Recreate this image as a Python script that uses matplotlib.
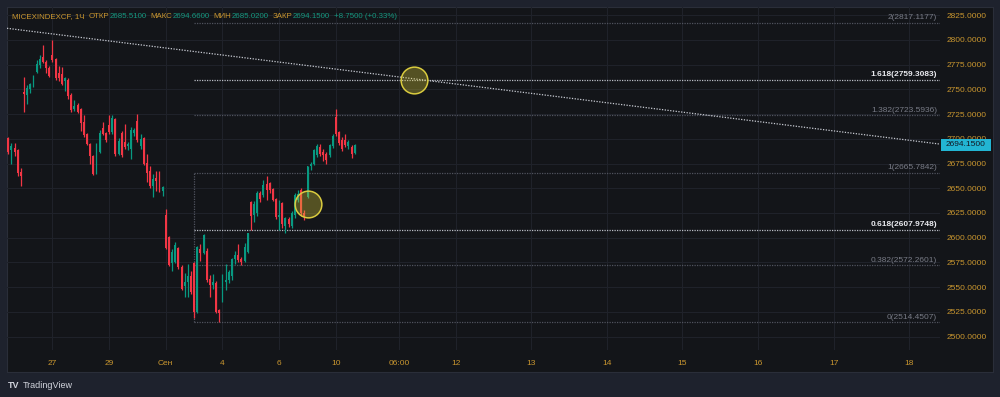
import matplotlib
matplotlib.use('Agg')
import matplotlib.pyplot as plt
import matplotlib.transforms as mtransforms
from matplotlib.patches import Rectangle
import numpy as np

plt.rcParams['font.family'] = ['Liberation Sans', 'DejaVu Sans']

# ---------------- data ----------------
opens = [2701, 2689, 2691, 2689, 2666, 2747, 2744, 2750, 2753, 2767,
         2775, 2783, 2778, 2771, 2785, 2781, 2766, 2765, 2758, 2759,
         2744, 2730, 2734, 2730, 2717, 2705, 2695, 2683, 2664, 2687,
         2711, 2706, 2714, 2707, 2720, 2685, 2706, 2697, 2693, 2690,
         2706, 2718, 2693, 2701, 2676, 2667, 2652, 2660, 2658, 2647,
         2623, 2601, 2574, 2576, 2590, 2570, 2551, 2555, 2561, 2574,
         2525, 2589, 2585, 2587, 2558, 2552, 2554, 2527, 2538, 2555,
         2557, 2561, 2579, 2583, 2579, 2577, 2586, 2636, 2623, 2625,
         2645, 2643, 2654, 2655, 2649, 2639, 2621, 2635, 2612, 2619,
         2612, 2623, 2638, 2648, 2625, 2641, 2672, 2675, 2684, 2692,
         2687, 2685, 2684, 2693, 2722, 2707, 2699, 2699, 2693, 2692,
         2685.51]
highs = [2702, 2696, 2696, 2690, 2670, 2762, 2754, 2756, 2764, 2780,
         2785, 2795, 2780, 2773, 2800, 2782, 2773, 2772, 2762, 2761,
         2746, 2739, 2736, 2731, 2724, 2706, 2696, 2684, 2696, 2709,
         2717, 2707, 2724, 2724, 2721, 2701, 2708, 2715, 2697, 2712,
         2711, 2725, 2705, 2702, 2685, 2672, 2664, 2667, 2667, 2652,
         2629, 2602, 2589, 2596, 2591, 2572, 2564, 2573, 2566, 2575,
         2592, 2594, 2604, 2590, 2562, 2563, 2556, 2528, 2563, 2573,
         2567, 2580, 2587, 2594, 2581, 2595, 2605, 2637, 2637, 2647,
         2647, 2658, 2662, 2656, 2650, 2640, 2638, 2636, 2621, 2621,
         2627, 2645, 2648, 2650, 2628, 2672, 2677, 2690, 2695, 2695,
         2690, 2687, 2695, 2705, 2730, 2708, 2702, 2705, 2699, 2694,
         2694.66]
lows = [2685, 2675, 2683, 2662, 2652, 2727, 2735, 2746, 2752, 2766,
        2771, 2777, 2766, 2762, 2778, 2759, 2758, 2754, 2748, 2740,
        2727, 2728, 2726, 2708, 2702, 2694, 2675, 2663, 2664, 2686,
        2704, 2697, 2705, 2705, 2683, 2684, 2682, 2690, 2689, 2680,
        2703, 2697, 2690, 2673, 2656, 2650, 2641, 2647, 2646, 2642,
        2589, 2571, 2566, 2574, 2568, 2547, 2540, 2540, 2543, 2519,
        2524, 2577, 2584, 2555, 2540, 2548, 2524, 2514.45, 2535, 2547,
        2554, 2557, 2573, 2576, 2572, 2576, 2585, 2608, 2616, 2622,
        2636, 2641, 2638, 2645, 2637, 2619, 2608, 2610, 2605, 2611,
        2610, 2620, 2636, 2622, 2618, 2640, 2668, 2673, 2682, 2683,
        2678, 2674, 2682, 2691, 2703, 2694, 2688, 2692, 2690, 2681,
        2685.02]
closes = [2687, 2693, 2687, 2665, 2662, 2745, 2751, 2755, 2763, 2776,
          2781, 2778, 2771, 2763, 2780, 2761, 2761, 2755, 2761, 2743,
          2729, 2733, 2727, 2716, 2704, 2695, 2683, 2664, 2687, 2706,
          2705, 2699, 2707, 2721, 2685, 2698, 2684, 2692, 2695, 2709,
          2709, 2699, 2700, 2675, 2665, 2652, 2659, 2657, 2647, 2651,
          2590, 2572, 2586, 2593, 2570, 2548, 2555, 2561, 2545, 2525,
          2591, 2585, 2603, 2557, 2552, 2555, 2525, 2524, 2555, 2557,
          2565, 2579, 2583, 2578, 2576, 2591, 2605, 2622, 2634, 2645,
          2639, 2653, 2648, 2648, 2638, 2621, 2623, 2614, 2620, 2614,
          2625, 2643, 2644, 2625, 2621, 2672, 2675, 2689, 2693, 2685,
          2684, 2679, 2694, 2703, 2705, 2696, 2690, 2694, 2697, 2685,
          2694.15]

time_tick_pos = [14, 32, 50, 68, 86, 104, 124, 142, 166, 190, 214, 238, 262, 286]
time_tick_labels = ['27', '29', 'Сен', '4', '6', '10', '06:00', '12', '13', '14', '15', '16', '17', '18']
price_ticks = [2500, 2525, 2550, 2575, 2600, 2625, 2650, 2675, 2700, 2725, 2750, 2775, 2800, 2825]

fib_levels = ['0', '0.382', '0.618', '1', '1.382', '1.618', '2']
fib_values = [2514.4507, 2572.2601, 2607.9748, 2665.7842, 2723.5936, 2759.3083, 2817.1177]
fib_highlight = ['0.618', '1.618']
fib_start = 59

trend_x = [-0.41, 295.8]
trend_y = [2811.6, 2694.6]

circle_x = [128.8, 95.2]
circle_y = [2759.3, 2633.8]

header_parts = [("MICEXINDEXCF, 1Ч", 'label'), ("ОТКР", 'label'), ("2685.5100", 'value'),
                ("МАКС", 'label'), ("2694.6600", 'value'), ("МИН", 'label'), ("2685.0200", 'value'),
                ("ЗАКР", 'label'), ("2694.1500", 'value'), ("+8.7500 (+0.33%)", 'value')]
last_price = 2694.15

# ---------------- style ----------------
W, H = 1000, 397
OUTER = '#1e222d'
BG = '#131519'
GRID = '#1f222a'
GOLD = '#c9962f'
TEAL = '#15977f'
GREEN = '#089981'
RED = '#f23645'
FIB_DIM = '#50535e'
FIB_BRIGHT = '#b8bbc4'

fig = plt.figure(figsize=(W / 100, H / 100), dpi=100, facecolor=OUTER)

panel = fig.add_axes([7 / W, 1 - 372 / H, (993 - 7) / W, (372 - 7) / H])
panel.set_facecolor(BG)
panel.set_xticks([]); panel.set_yticks([])
for s in panel.spines.values():
    s.set_color('#2a2e39'); s.set_linewidth(0.8)

ax = fig.add_axes([7 / W, 1 - 350 / H, (940 - 7) / W, (350 - 7) / H])
ax.set_facecolor('none')
for s in ax.spines.values():
    s.set_visible(False)
ax.set_xlim(-0.41, 295.8)
ax.set_ylim(2486.6, 2833.1)

# grid
for p in price_ticks:
    ax.axhline(p, color=GRID, lw=0.8, zorder=0)
for t in time_tick_pos:
    ax.axvline(t, color=GRID, lw=0.8, zorder=0)

# axes labels
ax.yaxis.tick_right()
ax.set_yticks(price_ticks)
ax.set_yticklabels([f"{p:.4f}" for p in price_ticks])
ax.set_xticks(time_tick_pos)
ax.set_xticklabels(time_tick_labels)
ax.tick_params(axis='y', length=0, pad=5, labelsize=6, labelcolor=GOLD)
ax.tick_params(axis='x', length=0, pad=7, labelsize=6, labelcolor=GOLD)

# candles
o = np.array(opens); c = np.array(closes); h = np.array(highs); l = np.array(lows)
x = np.arange(len(o))
cols = np.where(c >= o, GREEN, RED)
ax.vlines(x, l, h, colors=cols, lw=0.9, zorder=3)
ax.bar(x, np.maximum(np.abs(c - o), 0.7), bottom=np.minimum(o, c), width=0.62,
       color=cols, linewidth=0, zorder=4)

# fib extension
xr = ax.get_xlim()[1]
for lvl, val in zip(fib_levels, fib_values):
    bright = lvl in fib_highlight
    ax.hlines(val, fib_start, xr, colors=FIB_BRIGHT if bright else FIB_DIM,
              lw=0.9, linestyles=(0, (1, 1)), zorder=2)
    ax.annotate(f"{lvl}({val:.4f})", xy=(1, val), xycoords=('axes fraction', 'data'),
                xytext=(-2.2, 1.2), textcoords='offset points', ha='right', va='bottom',
                fontsize=6, color='#e8e9ee' if bright else '#787b86',
                fontweight='bold' if bright else 'normal', zorder=6)
ax.vlines(fib_start, fib_values[0], fib_values[3], colors=FIB_DIM, lw=0.9,
          linestyles=(0, (1, 1)), zorder=2)

# trend line
ax.plot(trend_x, trend_y, color='#c9ccd4', lw=0.9, ls=(0, (1, 1.2)), zorder=5)

# circles
ax.scatter(circle_x, circle_y, s=370, facecolor=(0.86, 0.80, 0.22, 0.33),
           edgecolor='#d9cb3e', linewidth=1.1, zorder=7)

# last price tag
px_per_price = (350 - 7) / (ax.get_ylim()[1] - ax.get_ylim()[0])
tag_h = 12 / px_per_price
trans = mtransforms.blended_transform_factory(ax.transAxes, ax.transData)
ax.add_patch(Rectangle((1.0 + 1 / 933, last_price - tag_h / 2), 50 / 933, tag_h,
                       transform=trans, facecolor='#22b5d3', edgecolor='none',
                       clip_on=False, zorder=8))
ax.text(1.0 + 26 / 933, last_price, f"{last_price:.4f}", transform=trans, ha='center',
        va='center', fontsize=6, color='#131722', clip_on=False, zorder=9)

# header legend
HFS = 5.7
prev = fig.text(12 / W, 1 - 16.8 / H, header_parts[0][0], fontsize=HFS, color=GOLD,
                va='center', ha='left')
prev_kind = header_parts[0][1]
for txt, kind in header_parts[1:]:
    gap = 0 if (prev_kind == 'label' and kind == 'value') else 3.0
    prev = ax.annotate(txt, xy=(1, 0), xycoords=prev, xytext=(gap, 0),
                       textcoords='offset points', ha='left', va='bottom',
                       fontsize=HFS, color=GOLD if kind == 'label' else TEAL,
                       annotation_clip=False)
    prev_kind = kind

# TradingView mark
fig.text(7.5 / W, 1 - 385 / H, "TV", fontsize=6.5, fontweight='heavy', color='#d1d4dc',
         va='center', ha='left')
fig.text(23 / W, 1 - 385 / H, "TradingView", fontsize=6.5, color='#d1d4dc',
         va='center', ha='left')

fig.savefig('out.png', dpi=100, facecolor=OUTER)
